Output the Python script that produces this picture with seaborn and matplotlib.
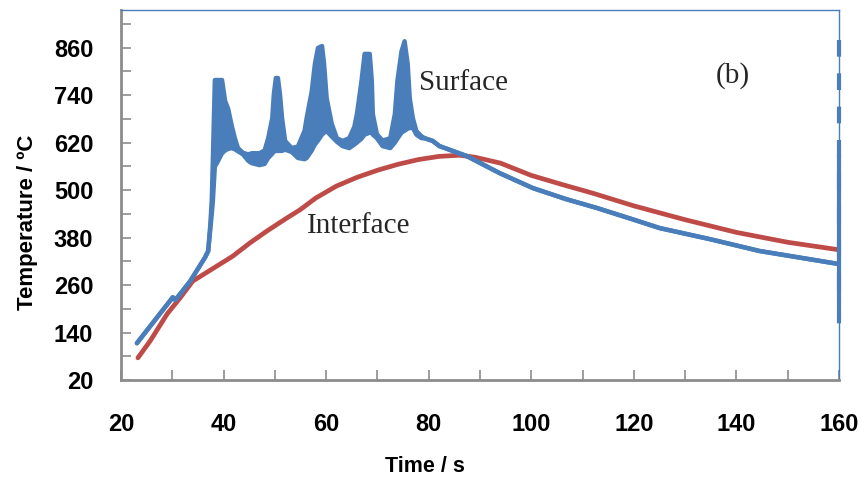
import numpy as np
import pandas as pd
import seaborn as sns
import matplotlib.pyplot as plt
from matplotlib.ticker import MultipleLocator, FixedLocator


# Surface thermocouple: time with lower / upper edge of the noisy band
surface_time = [23.1, 30.1, 30.6, 33.5, 36.4, 37.0, 37.4, 37.7, 37.9, 38.3,
                38.7, 39.7, 40.3, 40.9, 41.6, 42.2, 42.8, 43.8, 44.8, 45.5,
                47.0, 48.0, 48.7, 49.5, 49.8, 50.2, 50.6, 51.0, 51.4, 52.0,
                53.3, 54.5, 55.8, 56.2, 57.2, 57.8, 58.4, 59.2, 59.6, 60.1,
                61.1, 62.1, 63.2, 64.5, 65.5, 66.0, 66.9, 67.5, 68.5, 68.9,
                69.1, 69.9, 71.0, 72.5, 73.4, 73.9, 74.7, 75.3, 75.9, 76.3,
                76.9, 77.6, 78.6, 79.2, 80.8, 82.1, 87.4, 93.8, 100.3, 106.8,
                112.7, 120.0, 125.0, 134.8, 144.5, 160.0]
surface_low = [113, 229, 222, 270, 330, 346, 400, 440, 470, 560,
               568, 593, 600, 604, 606, 603, 598, 590, 574, 568,
               563, 566, 581, 592, 597, 599, 599, 599, 599, 602,
               596, 581, 578, 581, 600, 615, 625, 640, 645, 649,
               635, 622, 611, 606, 615, 620, 630, 640, 645, 645,
               640, 631, 611, 606, 620, 630, 645, 650, 655, 657,
               657, 640, 631, 631, 624, 611, 586, 543, 505, 477,
               455, 425, 404, 376, 346, 313]
surface_high = [113, 229, 222, 270, 330, 346, 410, 475, 570, 778,
                778, 778, 725, 705, 662, 631, 606, 594, 590, 593,
                593, 600, 631, 682, 742, 783, 783, 742, 682, 624,
                606, 610, 650, 682, 750, 818, 859, 864, 818, 732,
                667, 631, 624, 631, 660, 692, 776, 844, 844, 776,
                692, 641, 625, 631, 692, 776, 851, 876, 818, 732,
                682, 649, 636, 631, 624, 611, 586, 543, 505, 477,
                455, 425, 404, 376, 346, 313]

# Interface thermocouple
interface_time = [23.3, 25.7, 29.0, 31.5, 34.0, 38.7, 41.8, 45.1, 48.4, 52.3,
                  54.9, 58.0, 62.0, 66.0, 70.0, 74.0, 78.0, 82.0, 86.0, 89.0,
                  94.0, 100.0, 106.0, 112.0, 120.0, 130.0, 140.0, 150.0, 160.0]
interface_temp = [76, 119, 187, 227, 270, 308, 333, 366, 396, 429,
                  450, 480, 510, 532, 550, 565, 577, 585, 588, 583,
                  568, 537, 514, 492, 460, 425, 393, 368, 349]

# vertical artefact of the surface trace at the end of the record
edge_time = [160, 160]
edge_dash = [879, 121]
edge_solid = [588, 207]

x_ticks = [20, 40, 60, 80, 100, 120, 140, 160]
y_ticks = [20, 140, 260, 380, 500, 620, 740, 860]

BLUE = '#4a7ebb'
RED = '#be4b48'
GREY = '#8c8c8c'


def build_frames():
    surf = pd.DataFrame({'time': surface_time, 'low': surface_low,
                         'high': surface_high})
    inter = pd.DataFrame({'time': interface_time, 'temp': interface_temp})
    return surf, inter


def plot_temperatures(surf, inter):
    sns.set_style('white')
    plt.rcParams['font.family'] = ['Liberation Sans', 'DejaVu Sans']

    fig = plt.figure(figsize=(8.68, 4.87), dpi=100)
    ax = fig.add_axes([0.1394, 0.2197, 0.8272, 0.7598])

    # surface band
    ax.fill_between(surf['time'], surf['low'], surf['high'], color=BLUE,
                    linewidth=0, zorder=2)
    sns.lineplot(data=surf, x='time', y='high', color=BLUE, linewidth=3.2,
                 ax=ax, zorder=3)
    sns.lineplot(data=surf, x='time', y='low', color=BLUE, linewidth=3.2,
                 ax=ax, zorder=3)
    sns.lineplot(data=inter, x='time', y='temp', color=RED, linewidth=3.4,
                 ax=ax, zorder=2)
    ax.plot(edge_time, edge_dash, color=BLUE, linewidth=3,
            linestyle=(0, (4, 4)), zorder=4, clip_on=False)
    ax.plot(edge_time, edge_solid, color=BLUE, linewidth=3, zorder=4,
            clip_on=False)

    ax.set_xlim(20, 160)
    ax.set_ylim(20, 955)
    ax.xaxis.set_major_locator(FixedLocator(x_ticks))
    ax.xaxis.set_minor_locator(MultipleLocator(10))
    ax.yaxis.set_major_locator(FixedLocator(y_ticks))
    ax.yaxis.set_minor_locator(FixedLocator([v + 60 for v in y_ticks]))

    ax.tick_params(axis='both', which='both', direction='in', length=7,
                   width=1.2, color=GREY, bottom=True, left=True,
                   labelcolor='black')
    ax.tick_params(axis='y', which='major', pad=20, labelsize=17)
    ax.tick_params(axis='x', which='major', pad=24, labelsize=17)
    for lab in ax.get_xticklabels() + ax.get_yticklabels():
        lab.set_fontweight('bold')

    ax.set_xlabel('Time / s', fontsize=15.5, fontweight='bold',
                  color='black', va='center')
    ax.set_ylabel('Temperature / ºC', fontsize=16, fontweight='bold',
                  color='black', va='center')
    ax.xaxis.set_label_coords(0.423, -0.235)
    ax.yaxis.set_label_coords(-0.13, 0.427)

    for side in ['left', 'bottom']:
        ax.spines[side].set_color(GREY)
        ax.spines[side].set_linewidth(2)
    for side in ['top', 'right']:
        ax.spines[side].set_color(BLUE)
        ax.spines[side].set_linewidth(1)

    serif = ['Liberation Serif', 'DejaVu Serif']
    ax.text(78.2, 771, 'Surface', family=serif, fontsize=21, va='center')
    ax.text(56.2, 409, 'Interface', family=serif, fontsize=21, va='center')
    ax.text(135.9, 790, '(b)', family=serif, fontsize=21, va='center')

    fig.savefig('out.png', dpi=100)


surf, inter = build_frames()
plot_temperatures(surf, inter)
